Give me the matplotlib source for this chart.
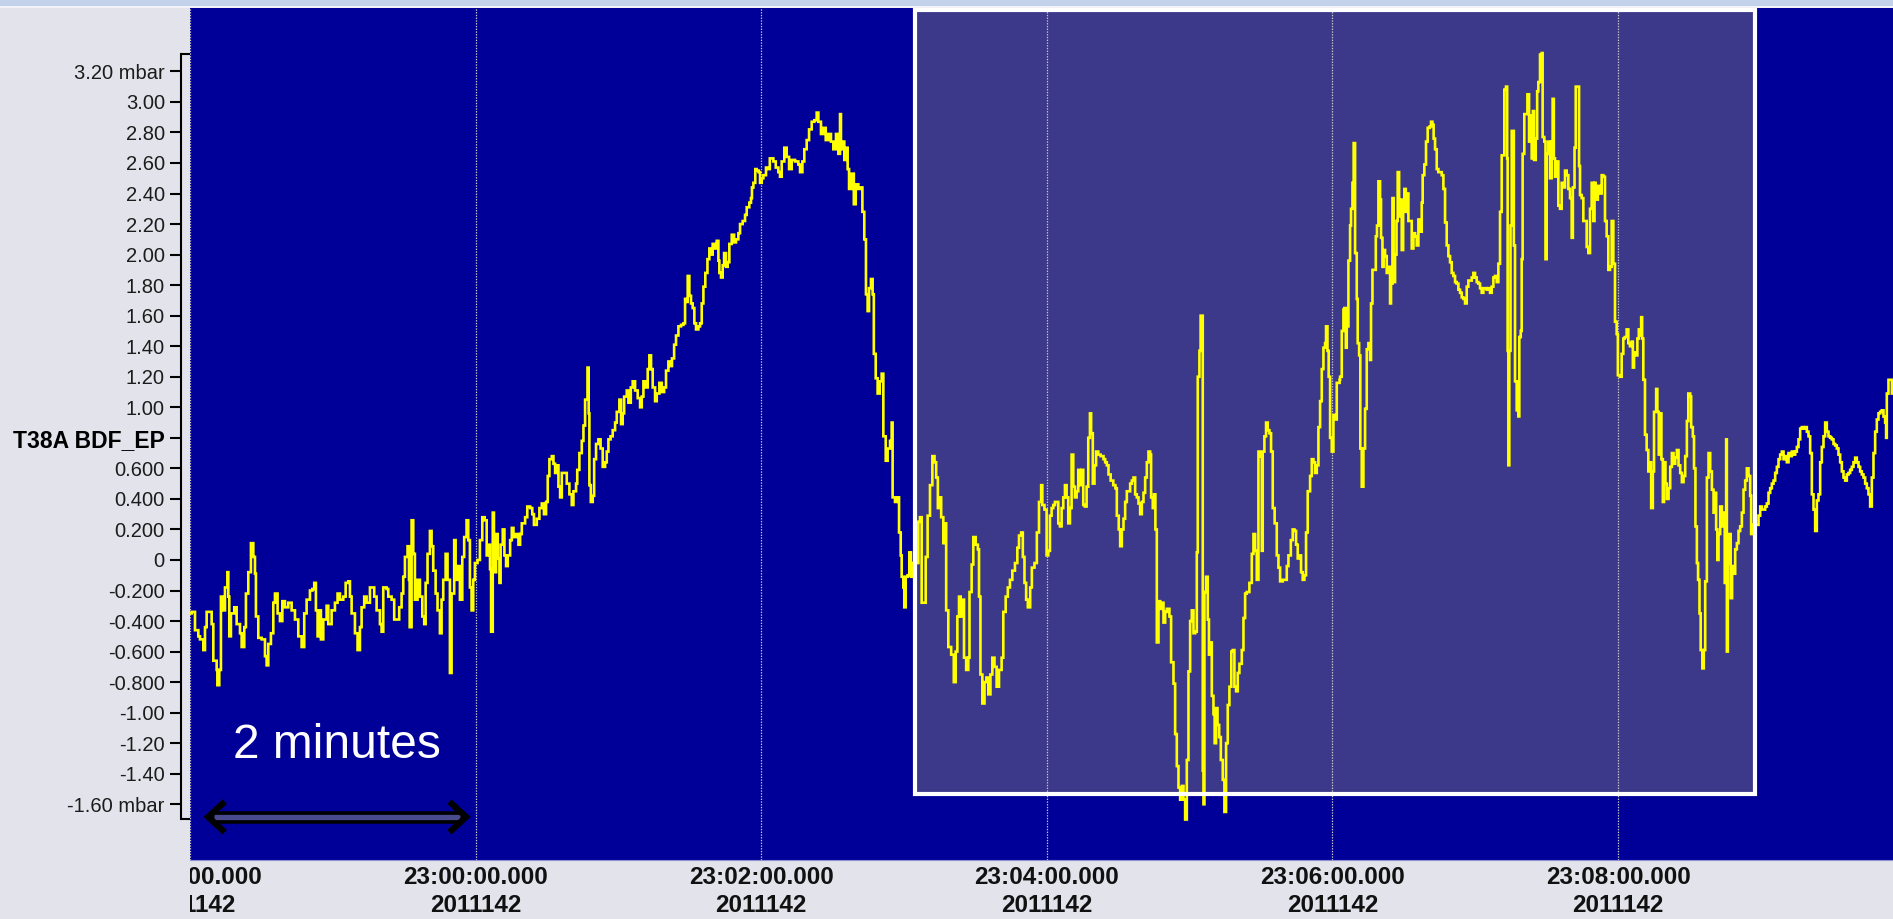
import matplotlib
matplotlib.use("Agg")
import matplotlib.pyplot as plt
from matplotlib.patches import Rectangle
from matplotlib.transforms import Bbox, TransformedBbox, blended_transform_factory

# Pressure trace T38A BDF_EP: (seconds after 22:58:00, mbar), one list per two-minute block
block_2258 = [
    (0.0, -0.35), (0.7, -0.34), (2.1, -0.46), (3.5, -0.50), (4.2, -0.52), (5.6, -0.59), (6.3, -0.44),
    (7.0, -0.34), (8.4, -0.34), (9.1, -0.42), (9.8, -0.66), (11.2, -0.72), (11.5, -0.82), (12.3, -0.72),
    (13.0, -0.24), (14.0, -0.33), (14.7, -0.18), (15.7, -0.08), (16.1, -0.24), (16.5, -0.50), (17.2, -0.35),
    (18.6, -0.31), (19.6, -0.42), (21.0, -0.48), (21.7, -0.57), (22.8, -0.44), (23.5, -0.22), (24.5, -0.08),
    (25.6, 0.11), (26.6, 0.02), (27.3, -0.09), (27.7, -0.37), (28.7, -0.51), (30.1, -0.52), (31.5, -0.63),
    (32.2, -0.69), (32.9, -0.55), (34.0, -0.48), (35.0, -0.28), (35.7, -0.22), (36.8, -0.35), (37.8, -0.40),
    (38.8, -0.27), (39.9, -0.31), (41.3, -0.28), (42.7, -0.33), (44.1, -0.39), (45.5, -0.50), (46.9, -0.57),
    (48.0, -0.35), (49.0, -0.26), (50.4, -0.20), (51.4, -0.19), (52.2, -0.15), (52.9, -0.33), (53.6, -0.50),
    (54.3, -0.33), (55.0, -0.52), (56.0, -0.39), (57.4, -0.30), (58.1, -0.42), (59.5, -0.33), (60.9, -0.28),
    (62.0, -0.22), (63.0, -0.26), (64.4, -0.24), (65.4, -0.15), (66.5, -0.14), (67.2, -0.24), (67.9, -0.35),
    (69.3, -0.48), (70.4, -0.59), (71.4, -0.44), (72.1, -0.31), (73.2, -0.24), (74.2, -0.28), (75.6, -0.18),
    (76.3, -0.18), (77.4, -0.24), (78.4, -0.33), (79.8, -0.42), (80.5, -0.47), (81.2, -0.18), (82.6, -0.19),
    (83.3, -0.24), (84.7, -0.26), (85.8, -0.39), (86.8, -0.39), (87.9, -0.31), (88.9, -0.22), (89.6, -0.11),
    (90.3, 0.02), (91.4, 0.09), (92.0, -0.13), (92.3, -0.44), (93.1, 0.26), (93.8, 0.04), (94.5, -0.26),
    (95.6, -0.13), (96.6, -0.24), (97.6, -0.37), (98.4, -0.42), (99.0, -0.15), (99.8, 0.04), (100.8, 0.19),
    (101.5, 0.09), (102.2, -0.07), (103.2, -0.22), (104.0, -0.33), (105.0, -0.48), (105.7, -0.26),
    (106.4, -0.13), (107.4, 0.04), (108.2, -0.13), (109.2, -0.74), (109.9, -0.22), (111.0, 0.13),
    (111.6, -0.13), (112.4, -0.04), (113.4, -0.26), (114.4, 0.02), (115.2, 0.15), (116.2, 0.26),
    (116.9, 0.13), (117.6, -0.18), (118.3, -0.33), (119.0, -0.13), (119.7, -0.02), (120.8, 0.00),
    (121.8, 0.13), (122.8, 0.28), (123.8, 0.26),
]
block_2300 = [
    (124.65, 0.03), (125.35, 0.10), (126.05, -0.06), (126.5, -0.47), (127.2, 0.31), (127.7, -0.08),
    (128.6, 0.17), (129.3, 0.01), (130.0, -0.15), (130.5, 0.10), (131.4, 0.20), (132.1, 0.03), (132.8, -0.04),
    (133.5, 0.03), (134.5, 0.13), (135.2, 0.21), (135.9, 0.15), (137.0, 0.17), (138.0, 0.10), (138.7, 0.17),
    (139.4, 0.24), (140.8, 0.28), (141.7, 0.35), (142.9, 0.34), (143.8, 0.30), (144.5, 0.23), (145.7, 0.27),
    (146.8, 0.34), (147.8, 0.37), (148.7, 0.30), (149.6, 0.38), (150.3, 0.55), (151.0, 0.66), (152.0, 0.68),
    (152.7, 0.63), (153.4, 0.57), (154.1, 0.62), (154.8, 0.48), (155.5, 0.41), (156.2, 0.57), (157.1, 0.57),
    (158.3, 0.50), (159.4, 0.43), (160.4, 0.36), (161.1, 0.45), (162.2, 0.50), (162.7, 0.59), (163.6, 0.70),
    (164.6, 0.78), (165.3, 0.88), (166.0, 1.05), (167.0, 1.26), (167.5, 0.96), (167.8, 0.49), (168.4, 0.38),
    (169.2, 0.42), (169.8, 0.66), (170.6, 0.76), (171.6, 0.79), (172.5, 0.73), (173.4, 0.61), (174.4, 0.64),
    (175.1, 0.71), (175.8, 0.79), (176.7, 0.81), (177.6, 0.85), (178.6, 0.90), (179.3, 0.97), (180.4, 1.05),
    (181.1, 0.89), (181.8, 0.96), (182.4, 1.07), (183.5, 1.11), (184.2, 1.03), (185.2, 1.13), (186.0, 1.17),
    (187.0, 1.11), (188.1, 1.06), (189.1, 1.00), (189.8, 1.07), (190.5, 1.17), (191.5, 1.13), (192.3, 1.25),
    (193.0, 1.34), (193.7, 1.25), (194.4, 1.13), (195.4, 1.04), (196.1, 1.09), (197.2, 1.16), (198.2, 1.10),
    (199.2, 1.13), (200.0, 1.24), (201.0, 1.30), (201.7, 1.27), (202.5, 1.32), (203.4, 1.41), (204.2, 1.47),
    (205.2, 1.53), (206.3, 1.54), (207.3, 1.55), (208.0, 1.71), (208.7, 1.69), (209.1, 1.86), (209.8, 1.73),
    (210.5, 1.68), (211.2, 1.65), (211.9, 1.55), (212.6, 1.51), (213.6, 1.53), (214.3, 1.55), (215.0, 1.68),
    (215.7, 1.79), (216.5, 1.88), (217.4, 1.97), (218.2, 2.04), (218.9, 2.00), (219.6, 2.07), (220.6, 2.04),
    (221.3, 2.09), (222.0, 1.96), (222.4, 1.88), (223.1, 1.85), (223.8, 1.93), (224.4, 2.01), (225.2, 1.92),
    (225.9, 1.95), (226.6, 2.07), (227.6, 2.13), (228.6, 2.08), (229.4, 2.10), (230.4, 2.14), (231.1, 2.20),
    (232.2, 2.22), (233.2, 2.26), (233.9, 2.31), (235.0, 2.34), (235.7, 2.37), (236.1, 2.44), (236.7, 2.47),
    (237.5, 2.56), (238.1, 2.55), (238.9, 2.54), (239.5, 2.47), (240.2, 2.50), (240.9, 2.52), (242.0, 2.57),
    (243.0, 2.56), (243.6, 2.63),
]
block_2302 = [
    (245.1, 2.61), (246.1, 2.57), (247.2, 2.54), (247.9, 2.51), (248.6, 2.61), (249.7, 2.70), (250.7, 2.64),
    (251.7, 2.56), (252.8, 2.62), (254.2, 2.61), (255.6, 2.59), (256.3, 2.54), (257.3, 2.61), (258.1, 2.69),
    (259.1, 2.75), (260.1, 2.82), (261.2, 2.87), (262.3, 2.88), (263.3, 2.93), (264.0, 2.87), (265.1, 2.79),
    (266.1, 2.83), (267.1, 2.75), (268.2, 2.79), (269.3, 2.74), (270.3, 2.69), (271.4, 2.79), (272.4, 2.66),
    (273.1, 2.92), (273.5, 2.69), (274.2, 2.74), (274.9, 2.62), (275.5, 2.70), (276.3, 2.56), (276.9, 2.43),
    (278.0, 2.53), (278.9, 2.33), (279.7, 2.46), (280.8, 2.43), (281.9, 2.44), (282.5, 2.28), (283.3, 2.10),
    (284.0, 1.74), (284.7, 1.63), (285.3, 1.78), (286.1, 1.84), (286.8, 1.74), (287.3, 1.35), (288.1, 1.19),
    (288.9, 1.09), (289.8, 1.17), (290.6, 1.22), (291.3, 0.81), (292.3, 0.65), (293.1, 0.73), (294.1, 0.78),
    (294.8, 0.90), (295.2, 0.41), (296.2, 0.38), (297.3, 0.41), (297.9, 0.18), (298.6, 0.03), (299.0, -0.11),
    (299.7, -0.18), (300.1, -0.31), (300.7, -0.11), (301.5, -0.10), (302.2, 0.05), (302.9, -0.11),
    (303.6, -0.02), (306.0, 0.25), (306.7, 0.28), (307.4, -0.28), (308.4, -0.28), (309.1, 0.02), (309.9, 0.29),
    (310.9, 0.49), (311.9, 0.68), (312.8, 0.64), (313.5, 0.54), (314.2, 0.34), (314.9, 0.41), (315.6, 0.28),
    (316.5, 0.11), (317.2, 0.24), (317.7, -0.33), (318.6, -0.57), (319.8, -0.62), (320.9, -0.80),
    (321.7, -0.60), (322.4, -0.37), (323.1, -0.24), (323.8, -0.37), (324.5, -0.26), (325.2, -0.64),
    (326.1, -0.72), (327.0, -0.64), (327.5, -0.21), (328.4, -0.03), (329.1, 0.15), (330.1, 0.10), (331.0, 0.07),
    (331.5, -0.24), (332.1, -0.75), (332.9, -0.94), (333.8, -0.80), (334.6, -0.77), (335.4, -0.88),
    (336.3, -0.75), (337.1, -0.64), (338.0, -0.70), (338.9, -0.83), (339.9, -0.72), (341.0, -0.64),
    (341.7, -0.34), (342.7, -0.24), (343.6, -0.18), (344.5, -0.13), (345.5, -0.07), (346.6, -0.02),
    (347.6, 0.08), (348.3, 0.16), (349.2, 0.18), (349.9, 0.02), (350.6, -0.15), (351.3, -0.26), (352.0, -0.31),
    (353.0, -0.18), (353.7, -0.05), (354.8, -0.02), (355.8, 0.18), (356.7, 0.38), (357.6, 0.49), (358.1, 0.36),
    (359.0, 0.33),
]
block_2304 = [
    (359.9, 0.03), (360.6, 0.06), (361.3, 0.29), (362.0, 0.34), (362.7, 0.36), (363.4, 0.38), (364.1, 0.38),
    (364.8, 0.24), (365.5, 0.22), (366.2, 0.34), (366.9, 0.41), (367.6, 0.49), (368.3, 0.41), (369.0, 0.24),
    (369.7, 0.34), (370.4, 0.69), (371.1, 0.48), (371.8, 0.41), (372.5, 0.45), (373.2, 0.59), (373.9, 0.49),
    (374.6, 0.59), (375.3, 0.36), (376.0, 0.35), (376.7, 0.48), (377.4, 0.80), (378.1, 0.96), (378.6, 0.83),
    (379.3, 0.50), (380.0, 0.62), (380.7, 0.71), (381.6, 0.69), (382.6, 0.68), (383.8, 0.66), (384.5, 0.64),
    (385.2, 0.62), (385.9, 0.56), (386.8, 0.52), (387.9, 0.49), (388.8, 0.47), (389.4, 0.29), (390.2, 0.20),
    (390.8, 0.09), (391.5, 0.20), (392.2, 0.27), (392.9, 0.38), (393.6, 0.45), (394.3, 0.45), (395.0, 0.50),
    (395.7, 0.52), (396.4, 0.54), (397.1, 0.43), (397.8, 0.41), (398.5, 0.37), (399.2, 0.30), (399.9, 0.38),
    (400.6, 0.44), (401.3, 0.54), (402.0, 0.64), (402.7, 0.71), (403.4, 0.69), (403.8, 0.41), (404.5, 0.34),
    (405.0, 0.43), (405.6, 0.20), (406.2, -0.54), (406.9, -0.27), (407.6, -0.32), (408.3, -0.28),
    (409.0, -0.41), (409.7, -0.34), (410.4, -0.32), (411.5, -0.37), (412.2, -0.67), (413.2, -0.81),
    (413.9, -1.14), (414.6, -1.35), (415.3, -1.49), (416.0, -1.57), (416.7, -1.48), (417.4, -1.57),
    (418.1, -1.70), (418.8, -1.31), (419.5, -0.73), (420.2, -0.40), (420.9, -0.33), (421.6, -0.48),
    (422.3, -0.47), (423.0, 0.05), (423.4, 1.20), (424.1, 1.37), (424.6, 1.60), (425.2, 1.60), (425.5, -1.38),
    (425.8, -1.60), (426.2, -0.21), (426.9, -0.11), (427.6, -0.39), (428.1, -0.62), (428.9, -0.54),
    (429.3, -0.89), (430.0, -1.01), (430.5, -1.20), (431.1, -0.97), (431.7, -1.08), (432.4, -1.16),
    (433.1, -1.31), (433.9, -1.44), (434.6, -1.65), (435.3, -1.20), (436.0, -0.95), (436.7, -0.83),
    (437.5, -0.60), (438.1, -0.59), (438.8, -0.83), (439.5, -0.86), (440.2, -0.74), (440.9, -0.68),
    (441.9, -0.59), (442.6, -0.38), (443.3, -0.22), (444.0, -0.21), (445.1, -0.15), (446.1, 0.04),
    (446.8, 0.17), (447.5, 0.06), (448.2, -0.13), (448.9, 0.71), (449.6, 0.68), (450.3, 0.06), (450.7, 0.71),
    (451.4, 0.81), (452.1, 0.90), (452.8, 0.85), (453.5, 0.83), (454.2, 0.71), (454.9, 0.34), (455.7, 0.24),
    (456.6, 0.03), (457.3, -0.05), (458.0, -0.14), (459.1, -0.13), (460.1, -0.13), (460.8, -0.04),
    (461.5, 0.03), (462.5, 0.13), (463.3, 0.20), (464.0, 0.19), (464.7, 0.10), (465.4, 0.01), (466.1, 0.03),
    (466.8, -0.08), (467.5, -0.13), (468.2, -0.10), (468.9, 0.18), (469.6, 0.45), (470.6, 0.55), (471.3, 0.66),
    (472.0, 0.64), (472.7, 0.57), (473.4, 0.62), (474.1, 0.87), (474.8, 1.04), (475.5, 1.25), (476.2, 1.39),
    (476.9, 1.42), (477.3, 1.53), (477.9, 1.37), (478.4, 1.20), (479.0, 0.80), (479.7, 0.71), (480.4, 0.95),
    (481.1, 0.92), (481.8, 1.16), (483.0, 1.18),
]
block_2306 = [
    (483.2, 1.20), (483.9, 1.50), (484.6, 1.64), (485.0, 1.65), (485.6, 1.39), (486.0, 1.53), (486.7, 1.96),
    (487.4, 2.19), (487.8, 2.30), (488.4, 2.47), (488.9, 2.73), (489.5, 2.01), (490.2, 1.71), (490.6, 1.42),
    (491.2, 1.34), (491.7, 0.73), (492.3, 0.48), (493.0, 0.73), (493.7, 0.99), (494.4, 1.38), (495.1, 1.42),
    (495.8, 1.31), (496.2, 1.68), (496.8, 1.90), (497.5, 1.90), (498.2, 2.12), (498.7, 2.19), (499.3, 2.48),
    (500.0, 2.36), (500.4, 2.11), (501.0, 1.92), (501.5, 2.03), (502.1, 1.99), (502.8, 1.88), (503.5, 1.92),
    (504.2, 1.68), (504.6, 1.81), (505.2, 2.37), (505.7, 1.82), (506.3, 2.00), (506.9, 2.22), (507.4, 2.54),
    (508.0, 2.25), (508.5, 2.36), (509.1, 2.03), (509.7, 2.33), (510.2, 2.43), (510.8, 2.28), (511.3, 2.40),
    (511.9, 2.22), (512.6, 2.22), (513.3, 2.04), (514.0, 2.14), (514.7, 2.12), (515.4, 2.06), (516.1, 2.23),
    (516.8, 2.15), (517.5, 2.34), (517.9, 2.52), (518.6, 2.59), (519.3, 2.74), (520.0, 2.83), (520.9, 2.84),
    (521.4, 2.87), (522.0, 2.85), (522.5, 2.76), (523.1, 2.69), (523.8, 2.56), (524.5, 2.54), (525.2, 2.54),
    (525.9, 2.52), (526.6, 2.43), (527.3, 2.21), (528.0, 2.06), (528.7, 1.99), (529.4, 1.95), (530.1, 1.88),
    (530.8, 1.86), (531.5, 1.82), (532.2, 1.81), (532.9, 1.77), (533.6, 1.75), (534.3, 1.72), (535.0, 1.71),
    (535.7, 1.68), (536.4, 1.79), (537.1, 1.83), (537.8, 1.83), (538.5, 1.85), (539.2, 1.88), (539.9, 1.85),
    (540.6, 1.82), (541.3, 1.81), (542.0, 1.78), (542.7, 1.75), (543.4, 1.78), (544.1, 1.78), (544.8, 1.77),
    (545.5, 1.78), (546.2, 1.75), (546.9, 1.79), (547.6, 1.85), (548.3, 1.86), (549.0, 1.82), (549.7, 1.94),
    (550.4, 2.28), (551.1, 2.65), (551.8, 2.65), (552.2, 3.08), (552.9, 3.10), (553.4, 2.63), (553.6, 1.37),
    (553.9, 0.62), (554.3, 1.37), (554.8, 2.19), (555.3, 2.81), (555.7, 2.81), (556.2, 2.06), (556.7, 1.17),
    (557.4, 0.98), (558.1, 0.94), (558.5, 1.46), (559.1, 1.50), (559.5, 1.97), (559.9, 2.66), (560.6, 2.92),
    (561.4, 2.92), (561.9, 3.05), (562.6, 2.74), (563.2, 2.91), (563.7, 2.63), (564.2, 2.94), (564.7, 2.62),
    (565.4, 2.76), (566.0, 3.07), (566.5, 3.13), (567.2, 3.31), (567.9, 3.32), (568.3, 2.77), (569.0, 2.74),
    (569.5, 1.97), (570.0, 2.66), (570.7, 2.74), (571.4, 2.50), (572.1, 2.74), (572.5, 3.02), (573.0, 2.63),
    (573.5, 2.51), (574.2, 2.61), (574.9, 2.32), (575.6, 2.30), (576.3, 2.47), (577.0, 2.44), (577.7, 2.55),
    (578.4, 2.52), (579.1, 2.43), (579.8, 2.37), (580.5, 2.11), (581.0, 2.44), (581.7, 2.70), (582.2, 3.10),
    (582.9, 3.10), (583.6, 2.58), (584.0, 2.39), (584.7, 2.37), (585.4, 2.22), (586.1, 2.22), (586.8, 2.05),
    (587.5, 2.01), (588.2, 2.30), (588.9, 2.47), (589.6, 2.22), (590.1, 2.47), (590.6, 2.36), (591.5, 2.45),
    (592.4, 2.40), (593.1, 2.52), (593.8, 2.51), (594.5, 2.22), (595.2, 2.12), (595.9, 1.90), (596.6, 1.92),
    (597.3, 2.22), (598.0, 1.94), (598.7, 1.56), (599.4, 1.48), (599.9, 1.21), (600.8, 1.20), (601.5, 1.35),
    (602.2, 1.45), (602.8, 1.46),
]
block_2308 = [
    (603.6, 1.51), (604.3, 1.42), (605.0, 1.40), (605.7, 1.43), (606.2, 1.26), (606.7, 1.36), (607.6, 1.34),
    (608.1, 1.45), (608.7, 1.51), (609.2, 1.47), (609.7, 1.59), (610.1, 1.45), (610.6, 1.18), (611.3, 0.82),
    (612.0, 0.72), (612.7, 0.58), (613.4, 0.64), (613.9, 0.34), (614.6, 0.58), (615.1, 0.97), (616.0, 1.12),
    (616.5, 0.97), (617.1, 0.69), (617.7, 0.96), (618.2, 0.66), (618.8, 0.38), (619.3, 0.64), (619.9, 0.50),
    (620.5, 0.40), (621.2, 0.47), (621.9, 0.61), (622.6, 0.70), (623.3, 0.63), (624.0, 0.67), (624.7, 0.72),
    (625.4, 0.62), (626.1, 0.57), (626.8, 0.51), (627.5, 0.55), (628.2, 0.68), (628.9, 0.91), (629.5, 1.09),
    (630.3, 1.07), (630.7, 0.87), (631.4, 0.81), (631.9, 0.60), (632.5, 0.22), (633.1, -0.02), (633.6, -0.13),
    (634.2, -0.35), (634.7, -0.59), (635.4, -0.71), (636.0, -0.59), (636.6, -0.14), (637.3, 0.54),
    (638.0, 0.70), (638.7, 0.58), (639.4, 0.46), (640.1, 0.31), (640.8, 0.44), (641.2, 0.20), (641.7, 0.00),
    (642.2, 0.17), (642.9, 0.35), (643.6, 0.22), (644.3, 0.31), (644.8, -0.15), (645.4, 0.79), (645.7, -0.60),
    (646.1, -0.02), (646.8, 0.17), (647.3, -0.25), (647.9, -0.04), (648.5, -0.09), (649.2, 0.07),
    (649.9, 0.11), (650.6, 0.19), (651.3, 0.22), (652.0, 0.31), (652.7, 0.46), (653.4, 0.52), (654.1, 0.60),
    (654.8, 0.55), (655.5, 0.42), (655.9, 0.17), (656.6, 0.23), (659.0, 0.29), (659.7, 0.35), (660.4, 0.33),
    (661.1, 0.33), (661.8, 0.35), (662.5, 0.37), (663.2, 0.44), (663.9, 0.47), (664.6, 0.50), (665.3, 0.52),
    (666.0, 0.57), (666.7, 0.61), (667.4, 0.66), (668.1, 0.69), (668.8, 0.71), (669.5, 0.66), (670.2, 0.68),
    (670.9, 0.64), (671.6, 0.70), (672.3, 0.68), (673.0, 0.71), (673.7, 0.69), (674.4, 0.71), (675.1, 0.74),
    (675.8, 0.79), (676.5, 0.86), (677.2, 0.87), (677.9, 0.86), (678.6, 0.87), (679.3, 0.84), (680.0, 0.81),
    (680.7, 0.70), (681.4, 0.43), (682.1, 0.33), (682.8, 0.19), (683.5, 0.39), (684.2, 0.43), (684.9, 0.64),
    (685.6, 0.74), (686.3, 0.81), (687.0, 0.90), (687.7, 0.84), (688.4, 0.81), (689.1, 0.80), (689.8, 0.79),
    (690.5, 0.76), (691.2, 0.75), (691.9, 0.73), (692.6, 0.69), (693.3, 0.64), (694.0, 0.58), (694.7, 0.54),
    (695.4, 0.52), (696.1, 0.56), (696.8, 0.57), (697.5, 0.59), (698.2, 0.61), (698.9, 0.64), (699.6, 0.67),
    (700.3, 0.64), (701.0, 0.61), (701.7, 0.58), (702.4, 0.56), (703.1, 0.54), (703.8, 0.50), (704.5, 0.47),
    (705.2, 0.43), (705.9, 0.35), (706.6, 0.54), (707.3, 0.70), (708.0, 0.84), (708.7, 0.92), (709.4, 0.96),
    (710.1, 0.97), (710.8, 0.98), (711.5, 0.94), (712.2, 0.90), (712.6, 0.80), (712.9, 1.09), (713.6, 1.18),
    (714.3, 1.18), (715.0, 1.09), (715.5, 1.13),
]

# Time axis (seconds after 22:58:00) and its labels
x_span = (0.0, 715.5)
tick_seconds = [0, 120, 240, 360, 480, 600]
tick_clock = ["22:58:00.000", "23:00:00.000", "23:02:00.000", "23:04:00.000", "23:06:00.000", "23:08:00.000"]
tick_day = "2011142"

# Pressure axis
y_span = (-1.965, 3.615)
y_ticks = [3.2, 3.0, 2.8, 2.6, 2.4, 2.2, 2.0, 1.8, 1.6, 1.4, 1.2, 1.0, 0.8, 0.6, 0.4, 0.2, 0.0,
           -0.2, -0.4, -0.6, -0.8, -1.0, -1.2, -1.4, -1.6]
y_labels = ["3.20 mbar", "3.00", "2.80", "2.60", "2.40", "2.20", "2.00", "1.80", "1.60", "1.40", "1.20",
            "1.00", "T38A BDF_EP", "0.600", "0.400", "0.200", "0", "-0.200", "-0.400", "-0.600", "-0.800",
            "-1.00", "-1.20", "-1.40", "-1.60 mbar"]
channel_index = 12
axis_bracket = (-1.696, 3.314)

# Highlighted window and the two-minute scale bar
window_t = (304.6, 657.6)
window_v = (-1.53, 3.60)
scale_t = (7.6, 116.0)
scale_v = -1.683
scale_text = "2 minutes"
scale_text_pos = (61.8, -1.297)

W, H = 1893, 919
BG = "#e3e3ec"
PLOT_BLUE = "#000099"

fig = plt.figure(figsize=(W / 100, H / 100), dpi=100, facecolor=BG)
left_px, top_px, bottom_px = 190, 8, 860
ax = fig.add_axes([left_px / W, 1 - bottom_px / H, 1 - left_px / W, (bottom_px - top_px) / H])
ax.set_facecolor(PLOT_BLUE)
ax.set_xlim(*x_span)
ax.set_ylim(*y_span)
ax.set_axisbelow(False)

# title strip across the top of the window
fig.patches.append(Rectangle((0, 1 - 6 / H), 1, 6 / H, transform=fig.transFigure,
                             facecolor="#c2d2ea", edgecolor="none", zorder=0))
fig.patches.append(Rectangle((0, 1 - 7.5 / H), 1, 1.5 / H, transform=fig.transFigure,
                             facecolor="#f2f2f8", edgecolor="none", zorder=0))

# highlighted window fill
ax.add_patch(Rectangle((window_t[0], window_v[0]), window_t[1] - window_t[0], window_v[1] - window_v[0],
                       facecolor="#3c388a", edgecolor="none", zorder=1))

# trace
blocks = (block_2258, block_2300, block_2302, block_2304, block_2306, block_2308)
times = [p[0] for blk in blocks for p in blk]
values = [p[1] for blk in blocks for p in blk]
ax.plot(times, values, color="#ffff00", lw=1.9, drawstyle="steps-post", zorder=3,
        solid_joinstyle="miter")

# window outline
ax.add_patch(Rectangle((window_t[0], window_v[0]), window_t[1] - window_t[0], window_v[1] - window_v[0],
                       facecolor="none", edgecolor="white", lw=3.0, zorder=4, clip_on=False))

# vertical dotted grid at the time ticks
ax.grid(axis="x", color="#c8c8c8", linestyle=(0, (1.1, 1.1)), linewidth=0.9)
ax.grid(axis="y", visible=False)

# spines
for side in ("top", "right"):
    ax.spines[side].set_visible(False)
ax.spines["bottom"].set_color("#8a8fd0")
ax.spines["bottom"].set_linewidth(0.8)
ax.spines["left"].set_position(("outward", 6.5))
ax.spines["left"].set_bounds(*axis_bracket)
ax.spines["left"].set_linewidth(1.5)
ax.spines["left"].set_color("black")

# end stubs of the axis bracket
bt = blended_transform_factory(ax.transAxes, ax.transData)
for yv in axis_bracket:
    ax.plot([-9 / (W - left_px), 0], [yv, yv], transform=bt, color="black", lw=1.5,
            clip_on=False, solid_capstyle="butt", zorder=5)

# y ticks
ax.set_yticks(y_ticks, labels=y_labels)
ax.tick_params(axis="y", direction="out", length=8, width=1.5, pad=3.6,
               labelsize=14.5, labelcolor="#1c1c1c", color="black")
for lab in ax.get_yticklabels():
    lab.set_fontfamily("Liberation Sans")
chan = ax.get_yticklabels()[channel_index]
chan.set_fontweight("bold")
chan.set_fontsize(16.5)
chan.set_color("black")

# x ticks
ax.set_xticks(tick_seconds, labels=[f"{c}\n{tick_day}" for c in tick_clock])
ax.tick_params(axis="x", length=0, pad=4.0, labelsize=17.5, labelcolor="#111111")
clip_box = TransformedBbox(Bbox.from_extents(left_px / W, 0, 1, 1), fig.transFigure)
for lab in ax.get_xticklabels():
    lab.set_fontfamily("Liberation Sans")
    lab.set_fontweight("bold")
    lab.set_linespacing(1.33)
    lab.set_clip_box(clip_box)
    lab.set_clip_on(True)

# two-minute scale bar
hl = 7.0
hh = 0.1
ax.plot([scale_t[0] + 2, scale_t[1] - 2], [scale_v, scale_v], color="black", lw=9,
        solid_capstyle="butt", zorder=5)
ax.plot([scale_t[0] + 2.5, scale_t[1] - 2.5], [scale_v, scale_v], color="#4a4a8e", lw=3.8,
        solid_capstyle="butt", zorder=6)
ax.plot([scale_t[0] + hl, scale_t[0], scale_t[0] + hl], [scale_v + hh, scale_v, scale_v - hh],
        color="black", lw=4.5, solid_joinstyle="miter", solid_capstyle="butt", zorder=6)
ax.plot([scale_t[1] - hl, scale_t[1], scale_t[1] - hl], [scale_v + hh, scale_v, scale_v - hh],
        color="black", lw=4.5, solid_joinstyle="miter", solid_capstyle="butt", zorder=6)
ax.text(scale_text_pos[0], scale_text_pos[1], scale_text, color="white", fontsize=34.5,
        family="Liberation Sans", ha="center", va="baseline", zorder=7)

fig.savefig("out.png", dpi=100, facecolor=BG)
